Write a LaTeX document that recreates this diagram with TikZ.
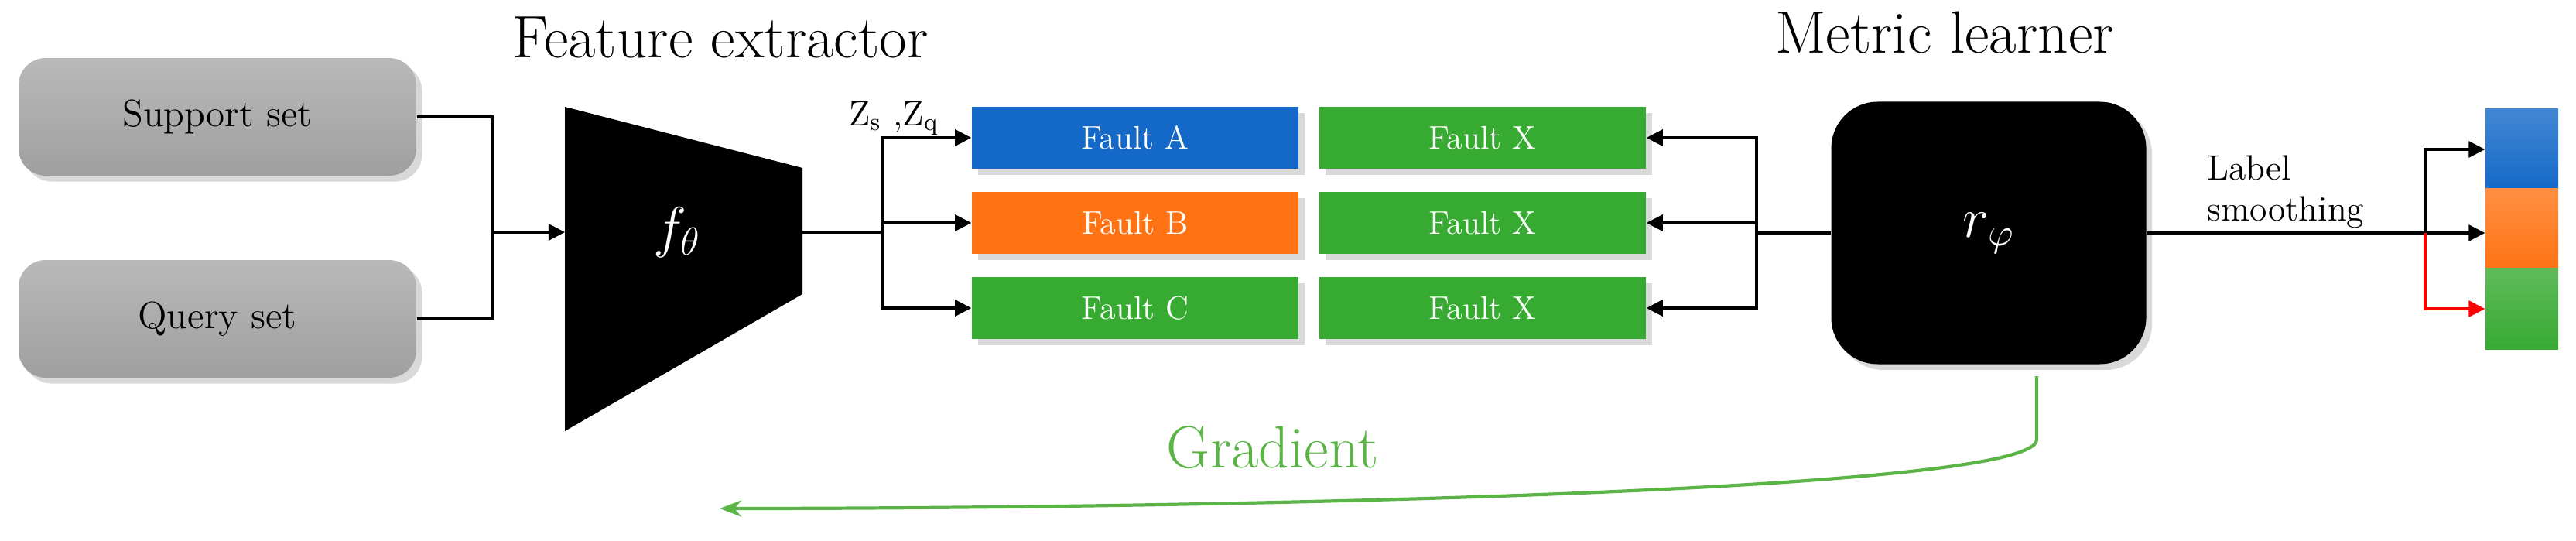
\documentclass[tikz,border=0pt]{standalone}
\usepackage{amsmath}
\usetikzlibrary{positioning,arrows.meta,shadows}
\definecolor{fblue}{RGB}{20,105,200}
\definecolor{forange}{RGB}{255,115,20}
\definecolor{fgreen}{RGB}{55,170,50}
\definecolor{ggreen}{RGB}{90,180,70}
\tikzset{
  setbox/.style={rounded corners=10pt, minimum width=5.14cm, minimum height=1.52cm,
    top color=gray!55, bottom color=gray!75, draw=none, drop shadow={opacity=0.3},
    font=\fontsize{14}{16}\selectfont},
  fault/.style={minimum width=4.22cm, minimum height=0.8cm, text=white,
    font=\fontsize{12}{14}\selectfont, drop shadow={opacity=0.3}},
  seg/.style={minimum width=0.94cm, minimum height=1.05cm, inner sep=0pt},
  title/.style={font=\fontsize{22}{24}\selectfont},
  conn/.style={line width=0.9pt, -{Triangle[length=6pt,width=6pt]}},
}
\begin{document}
\begin{tikzpicture}
\useasboundingbox (0,0) rectangle (33.29,6.98);
% inputs
\node[setbox] (support) at (2.81,5.47) {Support set};
\node[setbox] (query) at (2.81,2.86) {Query set};
% feature extractor
\fill (7.30,5.60) -- (10.37,4.81) -- (10.37,3.18) -- (7.30,1.41) -- cycle;
\coordinate (fin) at (7.30,3.98);
\coordinate (fout) at (10.37,3.98);
\node[text=white, font=\fontsize{22}{24}\selectfont] (ftheta) at (8.75,3.98) {$f_\theta$};
\node[title] (fetitle) at (9.31,6.50) {Feature extractor};
\coordinate (join) at (6.36,3.98);
\draw[line width=0.9pt] (support.east) -| (join) |- (query.east);
\draw[conn] (join) -- (fin);
% fault boxes
\node[fault, fill=fblue] (fa) at (14.67,5.20) {Fault A};
\node[fault, fill=forange] (fb) at (14.67,4.10) {Fault B};
\node[fault, fill=fgreen] (fc) at (14.67,3.00) {Fault C};
\node[fault, fill=fgreen] (xa) at (19.16,5.20) {Fault X};
\node[fault, fill=fgreen] (xb) at (19.16,4.10) {Fault X};
\node[fault, fill=fgreen] (xc) at (19.16,3.00) {Fault X};
\coordinate (split) at (11.40,3.98);
\draw[line width=0.9pt] (fout) -- (split);
\draw[conn] (split) |- (fa.west);
\draw[conn] (split) |- (fb.west);
\draw[conn] (split) |- (fc.west);
\node[font=\fontsize{13}{15}\selectfont] (zlabel) at (11.55,5.45) {Z\textsubscript{s} ,Z\textsubscript{q}};
% metric learner
\node[fill=black, rounded corners=0.6cm, minimum width=4.07cm, minimum height=3.39cm,
  drop shadow={opacity=0.3}, text=white, font=\fontsize{22}{24}\selectfont] (metric) at (25.70,3.97) {$r_\varphi$};
\node[title] (mltitle) at (25.13,6.56) {Metric learner};
\coordinate (bus) at (22.70,3.97);
\draw[line width=0.9pt] (metric.west) -- (bus);
\draw[conn] (bus) |- (xa.east);
\draw[conn] (bus) |- (xb.east);
\draw[conn] (bus) |- (xc.east);
% output
\node[seg, top color=fblue!80, bottom color=fblue] (oa) at (32.59,5.05) {};
\node[seg, top color=forange!80, bottom color=forange] (ob) at (32.59,4.02) {};
\node[seg, top color=fgreen!80, bottom color=fgreen] (oc) at (32.59,2.99) {};
\coordinate (osplit) at (31.34,3.97);
\draw[line width=0.9pt] (metric.east) -- (osplit);
\draw[conn] (osplit) |- (oa.west);
\draw[conn] (osplit) -- (ob.west |- osplit);
\draw[conn, red] (osplit) |- (oc.west);
\node[align=left, anchor=west, font=\fontsize{13}{15}\selectfont] (lsmooth) at (28.40,4.50) {Label\\smoothing};
% gradient
\coordinate (gstart) at (26.32,2.12);
\coordinate (gend) at (9.30,0.41);
\draw[ggreen, line width=1.2pt, -{Stealth[length=8pt]}] (gstart) -- (26.32,1.30)
  .. controls (26.32,0.60) and (15.00,0.41) .. (gend);
\node[text=ggreen, font=\fontsize{22}{24}\selectfont] (grad) at (16.45,1.20) {Gradient};
\end{tikzpicture}
\end{document}
